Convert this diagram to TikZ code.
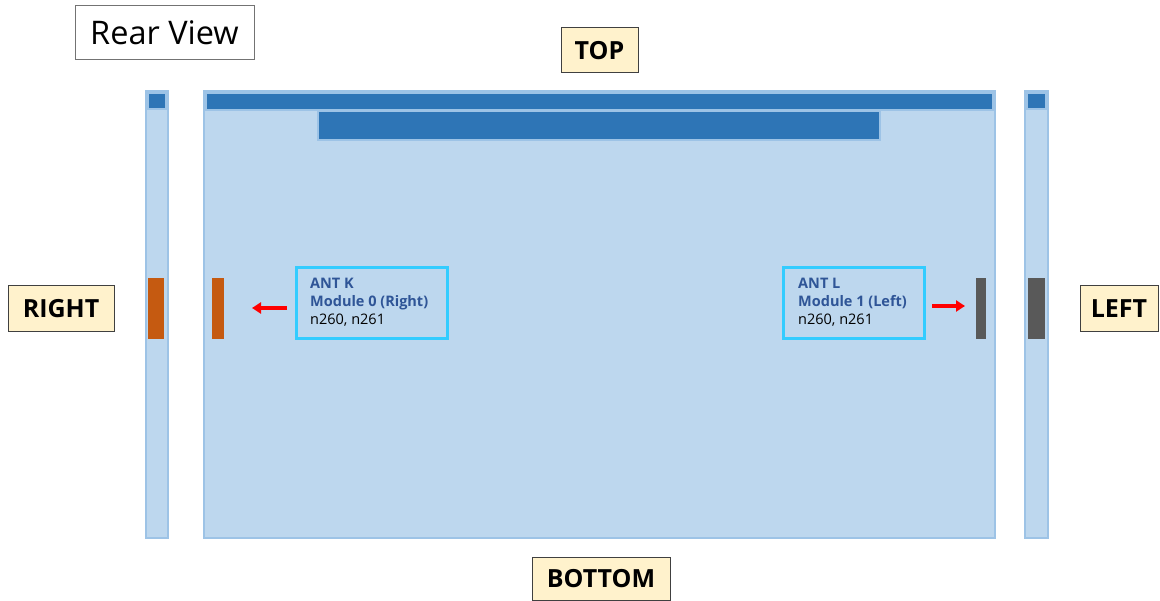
\documentclass[tikz,border=0pt]{standalone}
\usepackage{fontspec}
\setmainfont{Open Sans}
\usetikzlibrary{arrows.meta}
\definecolor{panelfill}{HTML}{BDD7EE}
\definecolor{panelline}{HTML}{9DC3E6}
\definecolor{darkblue}{HTML}{2E75B6}
\definecolor{orangebar}{HTML}{C55A11}
\definecolor{graybar}{HTML}{595959}
\definecolor{cream}{HTML}{FFF2CC}
\definecolor{antline}{HTML}{33CCFF}
\definecolor{anttext}{HTML}{2F5597}
\tikzset{
  panel/.style={draw=panelline, fill=panelfill, line width=2.5pt},
  bluebar/.style={draw=panelline, fill=darkblue, line width=1.5pt},
  sidelabel/.style={draw=black!75, fill=cream, line width=1pt, font=\fontsize{25}{28}\selectfont\bfseries, inner sep=0pt},
  antbox/.style={draw=antline, line width=3pt, inner sep=0pt},
  anttxt/.style={anchor=north west, align=left, inner sep=0pt, font=\fontsize{14.5}{18}\selectfont},
  redarrow/.style={draw=red, line width=3.5pt, -{Triangle[length=9pt,width=11pt]}},
}
\begin{document}
\begin{tikzpicture}[x=1pt,y=-1pt]
\useasboundingbox (0,0) rectangle (1160,601);
% title
\node[draw=black!55, fill=white, line width=1pt, minimum width=179pt, minimum height=54pt, inner sep=0pt,
      font=\fontsize{32.5}{36}\selectfont] (title) at (164.5,33) {Rear View};
% side labels
\node[sidelabel, minimum width=77pt, minimum height=45pt] (top) at (599.5,50.5) {TOP};
\node[sidelabel, minimum width=138pt, minimum height=43pt] (bottom) at (601,578.5) {BOTTOM};
\node[sidelabel, minimum width=106pt, minimum height=46pt] (right) at (61,309) {RIGHT};
\node[sidelabel, minimum width=78pt, minimum height=46pt] (left) at (1119,309) {LEFT};
% left strip
\draw[panel] (146,91) rectangle (168,538);
\draw[bluebar] (148,93) rectangle (166,109);
\fill[orangebar] (148,278) rectangle (164,339);
% main panel
\draw[panel] (204,91) rectangle (995,538);
\draw[bluebar] (206,93) rectangle (993,110);
\draw[bluebar] (318,111) rectangle (880,140);
% right strip
\draw[panel] (1025,91) rectangle (1048,538);
\draw[bluebar] (1027,93) rectangle (1046,109);
\fill[graybar] (1028,278) rectangle (1045,339);
% inner bars
\node[fill=orangebar, minimum width=12pt, minimum height=61pt, inner sep=0pt] (kbar) at (218,308.5) {};
\node[fill=graybar, minimum width=10pt, minimum height=61pt, inner sep=0pt] (lbar) at (981,308.5) {};
% ANT boxes
\node[antbox, minimum width=151pt, minimum height=71pt] (antk) at (371.5,303.5) {};
\node[anttxt] (antktext) at (310,278)
  {\textcolor{anttext}{\bfseries ANT K}\\\textcolor{anttext}{\bfseries Module 0 (Right)}\\n260, n261};
\node[antbox, minimum width=141pt, minimum height=71pt] (antl) at (853.5,303.5) {};
\node[anttxt] (antltext) at (798,278)
  {\textcolor{anttext}{\bfseries ANT L}\\\textcolor{anttext}{\bfseries Module 1 (Left)}\\n260, n261};
% arrows
\coordinate (ka) at (287,308);
\coordinate (kb) at (252,308);
\coordinate (la) at (932,306);
\coordinate (lb) at (965,306);
\draw[redarrow] (ka) -- (kb);
\draw[redarrow] (la) -- (lb);
\end{tikzpicture}
\end{document}
